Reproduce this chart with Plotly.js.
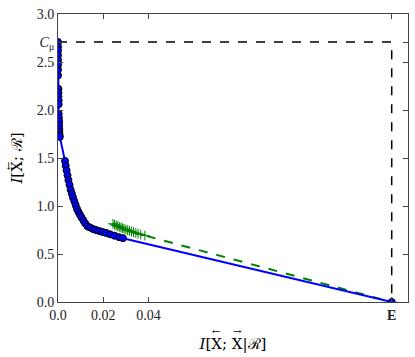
<!DOCTYPE html>
<html>
<head>
<meta charset="utf-8">
<script src="https://cdn.plot.ly/plotly-3.0.1.min.js"></script>
<style>
  html, body { margin: 0; padding: 0; background: #fff; }
  #chart { width: 415px; height: 357px; }
</style>
</head>
<body>
<div id="chart"></div>
<script>
// statistical complexity and excess entropy
var C_mu = 2.708;
var E_val = 0.1475;

// blue curve (optimal causal states)
var blue_x = [0, 0, 0, 0, 0, 0, 0, 0, 0.0002, 0.0002, 0.0002, 0.0003, 0.0003, 0.0003, 0.0004, 0.0005,
  0.0005, 0.0006, 0.0006, 0.0007, 0.0008, 0.0031, 0.0034, 0.0038, 0.0042, 0.0046, 0.0051, 0.0056,
  0.0061, 0.0066, 0.0072, 0.0078, 0.0084, 0.0090, 0.0097, 0.0104, 0.0112, 0.0120, 0.0130,
  0.0142, 0.0155, 0.0168, 0.0182, 0.0196, 0.0212, 0.0230, 0.0250, 0.0270, 0.0287, E_val];
var blue_y = [2.708, 2.66, 2.62, 2.57, 2.52, 2.47, 2.42, 2.36, 2.22, 2.18, 2.14, 2.10, 2.06, 1.96, 1.92, 1.88,
  1.84, 1.80, 1.77, 1.74, 1.72, 1.47, 1.42, 1.37, 1.32, 1.27, 1.22, 1.17,
  1.13, 1.09, 1.05, 1.01, 0.97, 0.94, 0.91, 0.88, 0.85, 0.82, 0.79,
  0.775, 0.76, 0.75, 0.74, 0.73, 0.72, 0.705, 0.69, 0.675, 0.665, 0];

// green curve (approximation)
var green_x = [0.0243, 0.0250, 0.0257, 0.0264, 0.0271, 0.0278, 0.0285, 0.0292, 0.0300, 0.0308,
  0.0316, 0.0325, 0.0334, 0.0344, 0.0354, 0.0366, 0.0384, E_val];
var green_y = [0.815, 0.805, 0.797, 0.790, 0.783, 0.776, 0.769, 0.762, 0.755, 0.748,
  0.741, 0.734, 0.727, 0.719, 0.711, 0.703, 0.692, 0];

var bound_x = [0, E_val, E_val];
var bound_y = [C_mu, C_mu, 0];

var serif = 'Liberation Serif, DejaVu Serif, serif';
var titleFont = 'DejaVu Serif, serif';

var traces = [
  {
    x: bound_x, y: bound_y, mode: 'lines', type: 'scatter',
    line: {color: 'black', width: 1.5, dash: 'dash'}, hoverinfo: 'skip'
  },
  {
    x: green_x, y: green_y, mode: 'lines+markers', type: 'scatter',
    line: {color: '#008000', width: 2, dash: 'dash'},
    marker: {symbol: 'cross-thin-open', size: 7, color: '#008000', line: {color: '#008000', width: 1}}
  },
  {
    x: blue_x, y: blue_y, mode: 'lines+markers', type: 'scatter',
    line: {color: '#0000ff', width: 2},
    marker: {symbol: 'circle', size: 7, color: '#0000ff', line: {color: 'black', width: 1}}
  }
];

// arrows drawn over the X's of the axis titles
function arrow(txt, x, y, ang) {
  return {text: txt, xref: 'paper', yref: 'paper', x: x, y: y, showarrow: false,
    xanchor: 'center', yanchor: 'middle', textangle: ang,
    font: {family: titleFont, size: 10, color: 'black'}};
}

var layout = {
  width: 415,
  height: 357,
  showlegend: false,
  paper_bgcolor: 'white',
  plot_bgcolor: 'white',
  margin: {l: 58, r: 7, t: 14, b: 55},
  font: {family: serif, size: 14, color: 'black'},
  xaxis: {
    range: [0, 0.1547],
    tickvals: [0, 0.02, 0.04, E_val],
    ticktext: ['0.0', '0.02', '0.04', '<b>E</b>'],
    ticks: 'inside', ticklen: 5, tickcolor: '#444',
    showline: true, linecolor: '#444', linewidth: 1, mirror: 'ticks',
    showgrid: false, zeroline: false,
    tickfont: {family: serif, size: 14, color: '#222'},
    title: {text: '<i>I</i>[X; X|\u211B]', font: {family: titleFont, size: 15}, standoff: 16}
  },
  yaxis: {
    range: [0, 3.0],
    tickvals: [0, 0.5, 1.0, 1.5, 2.0, 2.5, C_mu, 3.0],
    ticktext: ['0.0', '0.5', '1.0', '1.5', '2.0', '2.5', '<i>C</i><sub>\u03BC</sub>', '3.0'],
    ticks: 'inside', ticklen: 5, tickcolor: '#444',
    showline: true, linecolor: '#444', linewidth: 1, mirror: 'ticks',
    showgrid: false, zeroline: false,
    tickfont: {family: serif, size: 14, color: '#222'},
    title: {text: '<i>I</i>[X; \u211B]', font: {family: titleFont, size: 15}, standoff: 10}
  },
  annotations: [
    arrow('\u2190', (216 - 58) / 350, (302 - 331) / 288, 0),
    arrow('\u2192', (237 - 58) / 350, (302 - 331) / 288, 0),
    arrow('\u2190', (8 - 58) / 350, (302 - 166) / 288, -90)
  ]
};

Plotly.newPlot('chart', traces, layout, {displayModeBar: false, staticPlot: true});
</script>
</body>
</html>
